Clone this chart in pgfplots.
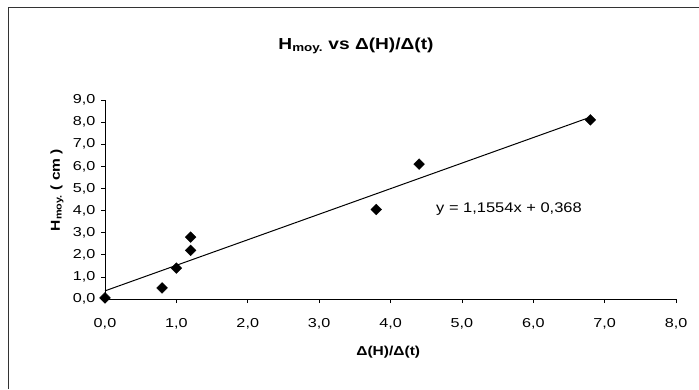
\documentclass[border=0pt]{standalone}
\usepackage{pgfplots}
\pgfplotsset{compat=1.18}
\usepackage{fontspec}
\setmainfont{Liberation Sans}
\begin{document}
\begin{tikzpicture}[x=1bp,y=1bp]
\useasboundingbox (0,0) rectangle (699,389);
\draw[line width=0.8bp,black!80] (8,0) -- (8,382) -- (699,382);
\node[font=\bfseries\fontsize{16}{18}\selectfont, xscale=1.2] at (356,343) {H\textsubscript{moy.} vs Δ(H)/Δ(t)};
\begin{axis}[
  at={(105bp,90bp)}, anchor=origin,
  scale only axis, width=571bp, height=199bp,
  xmin=0, xmax=8, ymin=0, ymax=9,
  xtick={0,1,...,8}, ytick={0,1,...,9},
  axis x line*=bottom, axis y line*=left,
  axis line style={line width=0.7bp,-},
  tick align=outside, major tick length=4bp,
  tick style={black, line width=0.6bp},
  /pgf/number format/.cd, use comma, fixed, fixed zerofill, precision=1, assume math mode=true,
  /pgfplots/.cd,
  tick label style={font=\fontsize{13}{15}\selectfont, xscale=1.25},
  xticklabel style={yshift=-12bp},
  yticklabel style={xshift=-1bp},
  xlabel={Δ(H)/Δ(t)},
  ylabel={H\textsubscript{moy.} ( cm )},
  label style={font=\bfseries\fontsize{13}{15}\selectfont, xscale=1.2},
  xlabel style={at={(axis description cs:0.496,0)}, anchor=center, yshift=-53bp},
  ylabel style={at={(axis description cs:-0.084,0.548)}, anchor=center},
  clip=false,
]
\addplot[only marks, mark=square*, mark size=3.8bp, mark options={rotate=45, fill=black}] coordinates {
(0,0.05) (0.8,0.5) (1.0,1.4) (1.2,2.2) (1.2,2.8) (3.8,4.05) (4.4,6.1) (6.8,8.1)
};
\addplot[black, line width=1bp] coordinates {(0,0.368) (6.8,8.22472)};
\node[font=\fontsize{14}{16}\selectfont, xscale=1.18] at (axis cs:5.66,4.07) {y = 1,1554x + 0,368};
\end{axis}
\end{tikzpicture}
\end{document}
